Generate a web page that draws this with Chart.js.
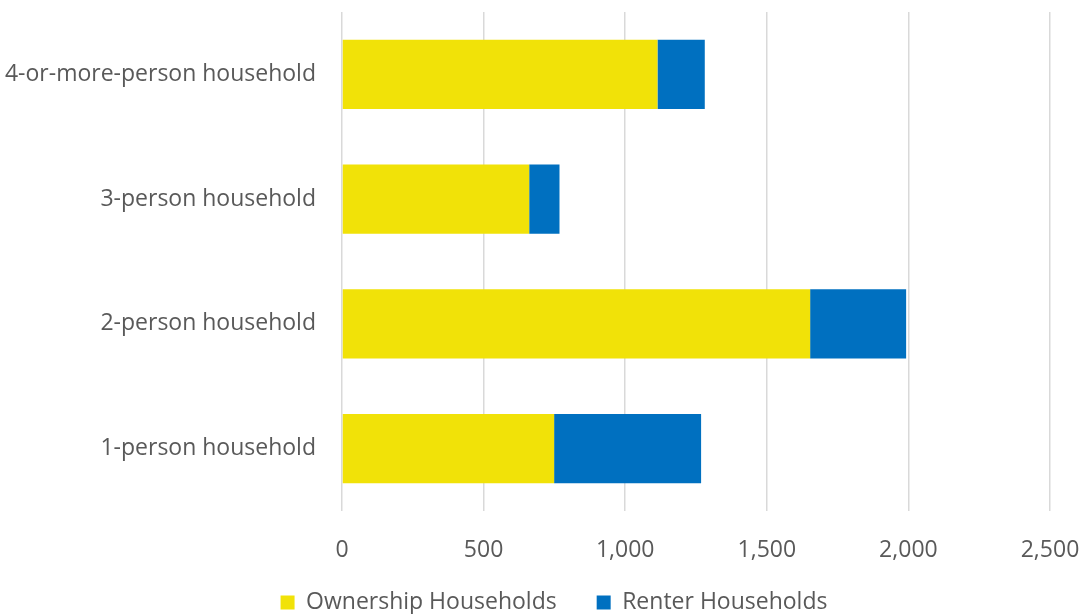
<!DOCTYPE html>
<html>
<head>
<meta charset="utf-8">
<script src="https://cdn.jsdelivr.net/npm/chart.js@4"></script>
<style>
  html, body { margin: 0; padding: 0; background: #ffffff; }
  #wrap { width: 1084px; height: 614px; position: relative; }
</style>
</head>
<body>
<div id="wrap"><canvas id="c"></canvas></div>
<script>
const categories = ['4-or-more-person household', '3-person household', '2-person household', '1-person household'];
const ownership = [1114, 661, 1653, 749];
const renter = [167, 107, 339, 519];
const xTicks = [0, 500, 1000, 1500, 2000, 2500];
const seriesNames = ['Ownership Households', 'Renter Households'];

const FONT = '"Open Sans", "Noto Sans", sans-serif';
const TEXT = '#595959';
const FS = 23;

const legendShift = {
  id: 'legendShift',
  afterLayout(chart) {
    if (chart.legend) { chart.legend.left += 29; chart.legend.right += 29; }
  }
};

new Chart(document.getElementById('c'), {
  type: 'bar',
  data: {
    labels: categories,
    datasets: [
      { label: seriesNames[0], data: ownership, backgroundColor: '#F1E208', borderWidth: 0, barPercentage: 0.556, categoryPercentage: 1 },
      { label: seriesNames[1], data: renter, backgroundColor: '#0070C0', borderWidth: 0, barPercentage: 0.556, categoryPercentage: 1 }
    ]
  },
  plugins: [legendShift],
  options: {
    indexAxis: 'y',
    responsive: true,
    maintainAspectRatio: false,
    animation: false,
    layout: { padding: { top: 12, right: 34, left: 0, bottom: -10 } },
    plugins: {
      tooltip: { enabled: false },
      legend: {
        position: 'bottom',
        labels: {
          boxWidth: 14, boxHeight: 14, color: TEXT,
          font: { family: FONT, size: FS },
          padding: 40
        }
      }
    },
    scales: {
      x: {
        stacked: true,
        min: 0, max: 2500,
        afterBuildTicks: (axis) => { axis.ticks = xTicks.map(v => ({ value: v })); },
        grid: { color: '#d9d9d9', lineWidth: 1.5, drawTicks: false },
        border: { display: false },
        ticks: {
          color: TEXT, font: { family: FONT, size: FS }, padding: -53, maxRotation: 0, mirror: true,
          callback: (v) => Number(v).toLocaleString('en-US')
        },
        afterFit: (axis) => { axis.paddingLeft = 0; axis.paddingRight = 0; axis.height = 40; }
      },
      y: {
        stacked: true,
        grid: { display: false, drawTicks: false },
        border: { display: false },
        ticks: { color: TEXT, font: { family: FONT, size: FS }, padding: 26 },
        afterFit: (axis) => { axis.width = 342; axis.paddingTop = 0; axis.paddingBottom = 0; }
      }
    }
  }
});
</script>
</body>
</html>
